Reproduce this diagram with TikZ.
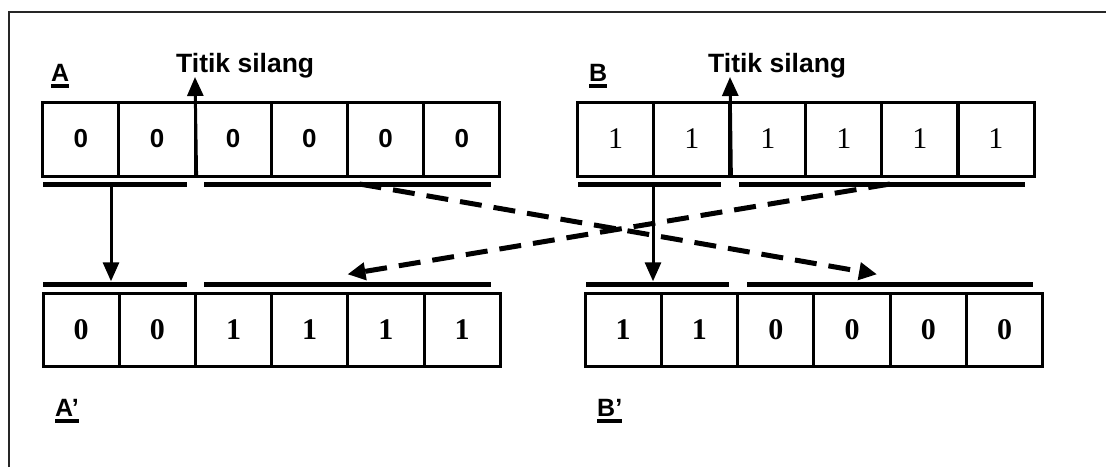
\documentclass[tikz,border=0pt]{standalone}
\usepackage{fontspec}
\setmainfont{Liberation Serif}
\newfontfamily\arialf{Liberation Sans}
\usetikzlibrary{arrows.meta,calc}
\begin{document}
\begin{tikzpicture}[x=1pt,y=-1pt,
  cell/.style={draw,line width=3pt,minimum width=76.2pt,minimum height=74pt,inner sep=0pt,anchor=center},
  sansbit/.style={font=\arialf\bfseries\fontsize{26}{26}\selectfont},
  serifbit/.style={font=\fontsize{30}{30}\selectfont},
  boldbit/.style={font=\bfseries\fontsize{30}{30}\selectfont},
  bar/.style={fill,inner sep=0pt,minimum height=5pt},
  lbl/.style={font=\arialf\bfseries\fontsize{25}{25}\selectfont,inner sep=0pt},
  ttl/.style={font=\arialf\bfseries\fontsize{26.5}{26.5}\selectfont,inner sep=0pt},
  solidarr/.style={line width=3pt,-{Triangle[length=19pt,width=16pt]}},
  dasharr/.style={line width=5pt,dash pattern=on 22pt off 12pt,-{Triangle[length=18pt,width=17pt]}},
  uline/.style={line width=3.2pt}
]
\useasboundingbox (0,0) rectangle (1106,467);

% outer frame
\draw[line width=1.2pt,black!85] (9,467) -- (9,12) -- (1106,12);

% parent chromosomes
\foreach \v [count=\i] in {0,0,0,0,0,0}
  \node[cell,sansbit] (a\i) at ({42.7+76.2*(\i-0.5)},139) {\v};
\foreach \v [count=\i] in {1,1,1,1,1,1}
  \node[cell,serifbit] (b\i) at ({577.7+76.05*(\i-0.5)},139) {\v};

% offspring chromosomes
\foreach \v [count=\i] in {0,0,1,1,1,1}
  \node[cell,boldbit,minimum height=73pt] (c\i) at ({43+76.2*(\i-0.5)},329.5) {\v};
\foreach \v [count=\i] in {1,1,0,0,0,0}
  \node[cell,boldbit,minimum height=73pt] (d\i) at ({585+76.3*(\i-0.5)},329.5) {\v};

% segment bars
\node[bar,minimum width=144pt] (aL) at (115,184) {};
\node[bar,minimum width=287pt] (aR) at (347.5,184) {};
\node[bar,minimum width=143pt] (bL) at (649.5,184) {};
\node[bar,minimum width=286pt] (bR) at (882,184) {};
\node[bar,minimum width=144pt] (cL) at (115,284) {};
\node[bar,minimum width=287pt] (cR) at (347.5,284) {};
\node[bar,minimum width=143pt] (dL) at (657.5,284) {};
\node[bar,minimum width=286pt] (dR) at (890,284) {};

% labels
\node[lbl,anchor=base west] (lA) at (51,81) {A};
\node[lbl,anchor=base west] (lB) at (589,81) {B};
\node[lbl,anchor=base west] (lA2) at (55,416) {A’};
\node[lbl,anchor=base west] (lB2) at (597,416) {B’};
\foreach \n in {lA,lB,lA2,lB2}
  \draw[uline] ([yshift=-5pt]\n.base west) -- ([yshift=-5pt]\n.base east);

% crossover points
\node[ttl,anchor=base west] (tA) at (176,72) {Titik silang};
\node[ttl,anchor=base west] (tB) at (708,72) {Titik silang};
\coordinate (pA) at (195,77);
\coordinate (pB) at (730,77);
\draw[solidarr] (a2.south east) -- (pA);
\draw[solidarr] (b2.south east) -- (pB);

% head segments copied straight down
\coordinate (ax) at (111,0);
\coordinate (bx) at (653,0);
\draw[solidarr] (aL.south -| ax) -- (cL.north -| ax);
\draw[solidarr] (bL.south -| bx) -- (dL.north -| bx);

% tail segments swapped
\draw[dasharr] ([xshift=12pt]aR.center) -- ([shift={(-13,-7)}]dR.north);
\draw[dasharr] ([xshift=8pt]bR.center) -- ([shift={(0,-7)}]cR.north);
\end{tikzpicture}
\end{document}
